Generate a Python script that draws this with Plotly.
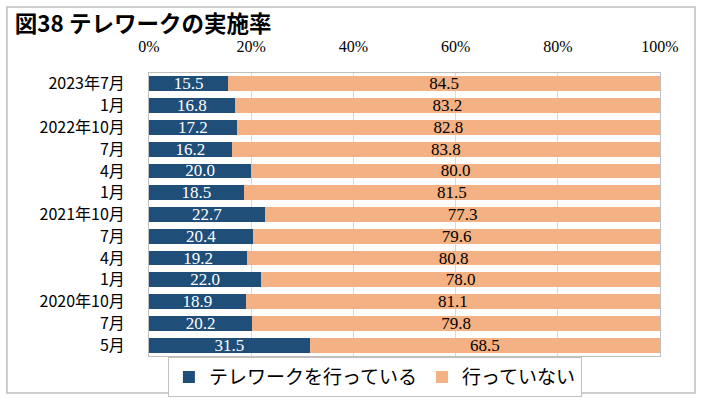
import plotly.graph_objects as go

periods = ["2023年7月", "1月", "2022年10月", "7月", "4月", "1月", "2021年10月",
           "7月", "4月", "1月", "2020年10月", "7月", "5月"]
doing = [15.5, 16.8, 17.2, 16.2, 20.0, 18.5, 22.7, 20.4, 19.2, 22.0, 18.9, 20.2, 31.5]
not_doing = [84.5, 83.2, 82.8, 83.8, 80.0, 81.5, 77.3, 79.6, 80.8, 78.0, 81.1, 79.8, 68.5]
x_ticks = [0, 20, 40, 60, 80, 100]

# duplicate month names need unique positions
rows = list(range(len(periods)))

serif = "Liberation Serif, Times New Roman, serif"
sans = "Noto Sans CJK JP, sans-serif"

fig = go.Figure()
fig.add_trace(go.Bar(
    y=rows, x=doing, orientation="h", name="テレワークを行っている",
    marker=dict(color="#1F4E79", line=dict(width=0)),
    text=[f"{v:.1f}" for v in doing], textposition="inside", insidetextanchor="middle",
    textfont=dict(family=serif, size=17, color="white"), width=0.68,
))
fig.add_trace(go.Bar(
    y=rows, x=not_doing, orientation="h", name="行っていない",
    marker=dict(color="#F4B183", line=dict(width=0)),
    text=[f"{v:.1f}" for v in not_doing], textposition="inside", insidetextanchor="middle",
    textfont=dict(family=serif, size=17, color="black"), width=0.68,
))

fig.update_layout(
    barmode="stack",
    width=703, height=400,
    margin=dict(l=149, r=43, t=73, b=44, autoexpand=False),
    paper_bgcolor="white", plot_bgcolor="white",
    bargap=0.32,
    uniformtext=dict(mode="show", minsize=10),
    title=dict(text="<b>図38 テレワークの実施率</b>", x=0.021, xanchor="left", y=0.94, yanchor="middle",
               font=dict(family=sans, size=22.5, color="black")),
    legend=dict(orientation="h", x=0.037, y=-0.004, xanchor="left", yanchor="top",
                bgcolor="white", bordercolor="#BFBFBF", borderwidth=1,
                font=dict(family=sans, size=19, color="black"),
                itemwidth=30, traceorder="normal"),
    shapes=[dict(type="rect", xref="paper", yref="paper", x0=-0.278, x1=1.0685, y0=-0.131, y1=1.233,
                 line=dict(color="#BFBFBF", width=1.5), fillcolor="rgba(0,0,0,0)", layer="below")],
)

fig.update_xaxes(
    side="top", range=[0, 100], tickvals=x_ticks, ticktext=[f"{t}%" for t in x_ticks],
    showgrid=True, gridcolor="#D9D9D9", gridwidth=1,
    showline=True, linecolor="#BFBFBF", mirror=True, ticks="",
    tickfont=dict(family=serif, size=16, color="black"), ticklabelstandoff=14,
    zeroline=False, fixedrange=True,
)
fig.update_yaxes(
    tickvals=rows, ticktext=periods, autorange="reversed",
    showline=True, linecolor="#BFBFBF", mirror=True, ticks="",
    tickfont=dict(family=sans, size=16, color="black"), ticklabelstandoff=20,
    showgrid=False, fixedrange=True,
)

# page body has a default margin; remove it so the figure sits at the window corner
fig.write_html("out.html", config={"displayModeBar": False},
               post_script="document.body.style.margin='0';")
